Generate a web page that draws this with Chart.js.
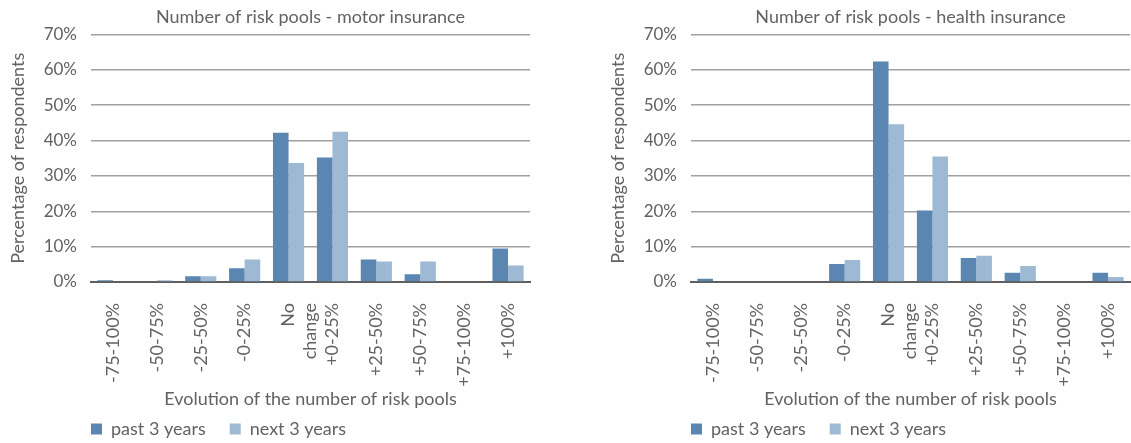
<!DOCTYPE html>
<html>
<head>
<meta charset="utf-8">
<script src="https://cdn.jsdelivr.net/npm/chart.js@4"></script>
<style>
  html, body { margin: 0; padding: 0; background: #fff; overflow: hidden; width: 1131px; height: 443px; }
  .box { position: absolute; top: 0; width: 565px; height: 443px; }
  #leftBox { left: 0; }
  #rightBox { left: 600px; }
</style>
</head>
<body>
<div class="box" id="leftBox"><canvas id="motorChart" width="565" height="443"></canvas></div>
<div class="box" id="rightBox"><canvas id="healthChart" width="565" height="443"></canvas></div>
<script>
const categories = ["-75-100%", "-50-75%", "-25-50%", "-0-25%", ["No", "change"], "+0-25%", "+25-50%", "+50-75%", "+75-100%", "+100%"];
const seriesNames = ["past 3 years", "next 3 years"];

const motorPast = [0.5, 0, 1.6, 3.9, 42.2, 35.2, 6.4, 2.2, 0, 9.5];
const motorNext = [0, 0.5, 1.6, 6.4, 33.7, 42.5, 5.8, 5.8, 0, 4.7];

const healthPast = [0.9, 0, 0, 5.1, 62.4, 20.2, 6.8, 2.6, 0, 2.6];
const healthNext = [0, 0, 0, 6.2, 44.6, 35.5, 7.4, 4.5, 0, 1.4];

const yTicks = [0, 10, 20, 30, 40, 50, 60, 70];

const pastColor = "#5b86b1";
const nextColor = "#9eb9d4";
const textColor = "#626262";
const fontFamily = "Lato, 'Open Sans', sans-serif";

// line the legend up with the plot's left edge and pull it up under the axis title
const legendShift = {
  id: "legendShift",
  afterLayout(chart) {
    const pad = chart.options.plugins.legend.labels.padding;
    chart.legend.left -= pad;
    chart.legend.right -= pad;
    chart.legend.top -= 18;
    chart.legend.bottom -= 18;
  }
};

function makeChart(canvasId, title, past, next) {
  const ctx = document.getElementById(canvasId);

  const data = {
    labels: categories,
    datasets: [
      { label: seriesNames[0], data: past, backgroundColor: pastColor },
      { label: seriesNames[1], data: next, backgroundColor: nextColor }
    ]
  };

  new Chart(ctx, {
    type: "bar",
    data: data,
    plugins: [legendShift],
    options: {
      responsive: false,
      animation: false,
      categoryPercentage: 0.71,
      barPercentage: 1,
      layout: { padding: { top: 1, right: 35, bottom: -23, left: 0 } },
      scales: {
        x: {
          grid: { display: false, drawTicks: false },
          border: { color: "#5e5e5e", width: 2 },
          ticks: {
            color: textColor,
            font: { family: fontFamily, size: 18 },
            minRotation: 90,
            maxRotation: 90,
            padding: 21,
            autoSkip: false
          },
          title: {
            display: true,
            text: "Evolution of the number of risk pools",
            color: textColor,
            font: { family: fontFamily, size: 18 },
            padding: { top: 6, bottom: 4 }
          },
          afterFit(scale) { scale.height = 132; }
        },
        y: {
          min: 0,
          max: 70,
          afterBuildTicks(scale) {
            scale.ticks = yTicks.map(v => ({ value: v }));
          },
          grid: { color: "#a0a0a0", lineWidth: 1.6, drawTicks: false },
          border: { display: false },
          ticks: {
            color: textColor,
            font: { family: fontFamily, size: 17 },
            padding: 14,
            callback: function(value) { return value + "%"; }
          },
          title: {
            display: true,
            text: "Percentage of respondents",
            color: textColor,
            font: { family: fontFamily, size: 18 },
            padding: { top: 7, bottom: 0 }
          },
          afterFit(scale) { scale.width = 91; }
        }
      },
      plugins: {
        title: {
          display: true,
          text: title,
          color: textColor,
          fullSize: false,
          font: { family: fontFamily, size: 18, weight: "normal" },
          padding: { top: 5, bottom: 7 }
        },
        legend: {
          position: "bottom",
          align: "start",
          fullSize: false,
          labels: {
            color: textColor,
            font: { family: fontFamily, size: 18 },
            boxWidth: 11,
            boxHeight: 11,
            padding: 24
          }
        },
        tooltip: { enabled: false }
      }
    }
  });
}

makeChart("motorChart", "Number of risk pools - motor insurance", motorPast, motorNext);
makeChart("healthChart", "Number of risk pools - health insurance", healthPast, healthNext);
</script>
</body>
</html>
